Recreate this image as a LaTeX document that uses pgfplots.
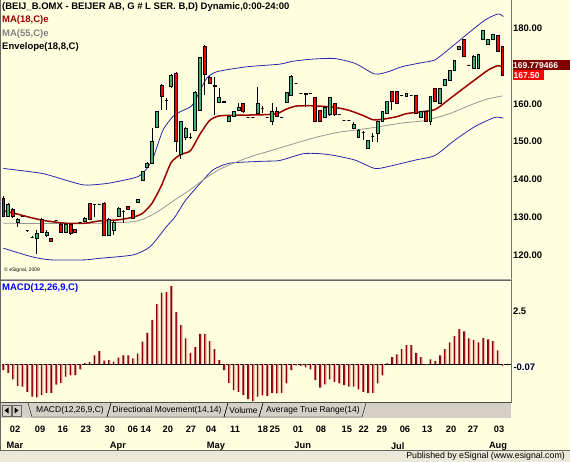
\documentclass[border=0pt]{standalone}
\usepackage{pgfplots}
\pgfplotsset{compat=1.18}
\usepackage{pgfplotstable}
\usepackage{fontspec}
\setmainfont{Liberation Sans}
\definecolor{bgy}{RGB}{255,255,224}
\definecolor{upg}{RGB}{60,179,113}
\definecolor{dnr}{RGB}{255,0,0}
\definecolor{ma18}{RGB}{153,0,0}
\definecolor{ma55}{RGB}{150,150,150}
\definecolor{env}{RGB}{40,40,170}
\definecolor{macdr}{RGB}{139,0,0}
\definecolor{macdp}{RGB}{228,178,178}
\definecolor{wgray}{RGB}{212,208,200}
\definecolor{sgray}{RGB}{236,233,216}
\definecolor{boxr}{RGB}{128,0,0}

\pgfplotstableread{
i o h l c
0 135.1 135.5 130.0 130.3
1 130.3 133.8 130.0 133.5
2 132.2 132.5 129.8 130.3
3 128.5 129.8 127.4 129.5
4 130.1 130.3 130.0 130.1
5 126.4 126.6 126.2 126.4
6 124.7 124.9 124.5 124.7
7 124.5 126.6 120.3 125.6
8 129.5 129.8 125.8 126.1
9 125.3 126.6 124.7 126.1
10 124.5 124.6 123.6 123.7
11 129.2 129.3 129.1 129.2
12 128.2 128.4 126.0 126.1
13 126.1 128.4 125.8 128.2
14 128.2 128.3 125.2 125.8
15 126.9 127.0 126.0 126.1
16 128.5 128.6 128.4 128.5
17 129.0 130.0 128.9 129.8
18 133.7 133.8 129.4 129.5
19 133.4 133.6 130.1 133.4
20 133.5 133.6 133.4 133.5
21 133.7 133.9 125.2 125.3
22 125.3 129.8 125.0 129.5
23 126.6 129.0 125.3 128.5
24 130.1 132.6 130.0 132.4
25 131.6 131.9 128.5 131.6
26 132.9 133.0 132.0 132.2
27 131.9 132.0 129.7 129.8
28 134.0 134.9 133.9 134.8
29 139.7 142.2 139.5 142.0
30 143.3 144.6 143.0 144.3
31 144.3 153.7 144.0 150.0
32 153.9 158.1 153.7 157.9
33 165.0 165.2 158.4 161.9
34 160.8 161.6 158.4 160.8
35 164.5 167.8 164.3 167.6
36 168.2 168.4 147.3 150.0
37 146.5 155.5 145.5 155.3
38 151.2 154.0 150.3 153.6
39 151.0 152.2 150.6 151.0
40 153.1 163.3 152.9 163.1
41 158.4 172.5 158.2 172.3
42 175.3 175.5 162.3 167.9
43 167.1 167.5 165.3 165.5
44 165.0 167.1 157.0 164.5
45 160.5 164.2 160.3 161.8
46 160.7 160.8 160.4 160.5
47 155.3 156.8 155.1 156.6
48 156.6 158.1 156.4 157.9
49 158.2 160.2 158.0 159.2
50 160.1 160.2 157.7 157.9
51 156.4 156.5 156.3 156.4
52 156.4 156.5 156.3 156.4
53 157.5 164.5 157.3 160.1
54 158.9 159.3 157.5 158.9
55 156.4 156.5 156.3 156.4
56 155.3 160.2 154.4 157.9
57 157.9 159.1 156.5 156.6
58 156.4 156.5 156.3 156.4
59 160.3 163.2 160.2 163.1
60 162.3 167.6 162.1 167.4
61 165.3 165.4 165.2 165.3
62 162.8 162.9 162.7 162.8
63 162.9 163.0 159.2 162.4
64 162.8 162.9 162.7 162.8
65 161.7 161.8 155.2 155.3
66 158.4 158.5 155.2 155.3
67 156.4 159.4 156.3 159.2
68 157.1 161.9 156.9 161.7
69 160.2 160.3 156.9 157.1
70 157.2 157.3 157.1 157.2
71 155.5 155.6 155.4 155.5
72 155.5 155.6 155.4 155.5
73 153.4 155.2 153.3 154.7
74 151.0 153.3 150.9 153.1
75 152.5 152.9 150.4 152.5
76 148.2 150.5 148.0 150.4
77 151.5 152.2 150.0 151.5
78 152.3 155.5 150.0 155.3
79 155.3 158.1 155.1 157.9
80 157.5 160.8 157.3 160.6
81 163.2 163.3 158.4 160.6
82 163.2 163.3 160.0 160.1
83 162.3 162.4 162.2 162.3
84 162.1 162.9 162.0 162.8
85 162.3 162.4 162.2 162.3
86 162.3 162.4 157.3 157.5
87 156.4 158.0 156.3 157.9
88 157.9 158.0 155.2 155.3
89 155.3 162.0 154.4 161.9
90 164.1 164.2 160.5 160.6
91 160.0 164.2 159.9 164.1
92 164.8 166.6 164.7 166.5
93 166.3 169.0 166.2 168.9
94 168.8 171.7 168.7 171.6
95 174.4 175.4 174.3 175.3
96 177.1 177.2 172.4 172.5
97 170.3 170.4 170.2 170.3
98 169.5 172.8 169.4 172.7
99 169.4 173.3 169.3 173.2
100 177.1 179.5 177.0 179.4
101 175.8 177.2 175.7 177.1
102 177.1 178.4 177.0 178.3
103 178.2 178.3 173.8 173.9
104 175.3 175.4 167.4 167.5
}\ohlc

\pgfplotstableread{
i v
0 131.7
3 130.8
6 129.8
9 129.0
13 128.4
17 128.4
20 129.0
24 129.3
27 130.0
29 131.0
31 133.7
33 138.5
35 144.5
37 146.6
39 147.6
41 152.0
43 155.6
45 156.8
49 157.0
54 157.1
57 157.4
59 158.6
61 159.4
64 159.5
67 159.3
69 159.1
72 158.3
75 156.9
77 155.8
79 155.9
82 156.6
84 157.4
87 157.9
90 158.5
93 161.3
96 164.2
98 166.1
101 168.9
103 170.1
104 169.8
}\maA

\pgfplotstableread{
i v
0 128.4
10 128.3
20 128.4
27 128.8
29 129.4
32 131.3
36 134.8
39 137.3
42 140.2
45 142.6
48 144.3
52 146.2
56 147.7
62 150.0
66 151.4
70 152.5
76 153.5
83 154.9
88 155.6
93 157.4
98 160.0
101 161.3
104 162.1
}\maB

\pgfplotstableread{
i v
0 142.9
8 141.6
13 139.8
17 138.5
22 139.0
28 140.7
30 143.0
31.3 146.0
33.3 153.1
35.4 156.7
37 158.0
39.3 159.5
41 163.5
42.4 166.8
44.5 168.5
50.7 169.8
57.6 170.5
60 171.2
64 171.8
69 172.0
73.3 170.7
77.4 167.9
80.2 168.5
83 169.8
87.2 170.9
89.9 171.6
92.7 174.3
96.9 178.7
100.4 182.2
103.1 183.8
104.2 183.1
}\envU

\pgfplotstableread{
i v
0 121.8
6 119.5
10 118.7
17 118.7
20 119.1
27 120.0
30.6 122.2
34 127.5
35.8 130.1
38 134.5
41.7 139.9
43.8 142.6
47.2 144.3
54.2 144.8
57.6 145.0
62.5 146.8
66 146.8
69.1 146.3
73.3 145.1
77.4 142.9
80.2 143.4
85.8 145.1
89.9 146.3
94.1 150.4
98.3 154.0
102.4 156.4
104.2 156.2
}\envL

\pgfplotstableread{
i v
0 -0.28
1 -0.41
2 -0.72
3 -1.02
4 -1.06
5 -1.30
6 -1.53
7 -1.56
8 -1.46
9 -1.35
10 -1.35
11 -0.97
12 -0.88
13 -0.59
14 -0.53
15 -0.52
16 -0.25
17 0.05
18 0.09
19 0.41
20 0.61
21 0.16
22 0.19
23 0.11
24 0.30
25 0.41
26 0.41
27 0.27
28 0.49
29 1.05
30 1.47
31 2.07
32 2.82
33 3.35
34 3.38
35 3.66
36 2.44
37 1.83
38 1.21
39 0.53
40 0.80
41 1.42
42 1.42
43 1.08
44 0.70
45 0.19
46 -0.28
47 -0.88
48 -1.22
49 -1.31
50 -1.46
51 -1.64
52 -1.74
53 -1.53
54 -1.47
55 -1.49
56 -1.35
57 -1.38
58 -1.35
59 -0.91
60 -0.28
61 -0.06
62 -0.09
63 -0.16
64 -0.25
65 -0.75
66 -1.10
67 -0.95
68 -0.72
69 -0.83
70 -0.91
71 -0.99
72 -1.06
73 -1.06
74 -1.19
75 -1.30
76 -1.35
77 -1.35
78 -0.91
79 -0.53
80 0.03
81 0.33
82 0.45
83 0.70
84 0.89
85 0.89
86 0.53
87 0.33
88 -0.02
89 0.22
90 0.14
91 0.41
92 0.70
93 1.02
94 1.31
95 1.64
96 1.53
97 1.21
98 1.13
99 1.02
100 1.22
101 1.16
102 1.08
103 0.64
104 -0.07
}\macd

\begin{document}
\begin{tikzpicture}[x=1pt,y=1pt]
\path[use as bounding box] (0,0) rectangle (570,462);
\fill[bgy] (0,0) rectangle (570,462);
% status bar
\fill[sgray] (0,0) rectangle (570,11);
\draw[black!60, line width=0.8pt] (0,11.4) -- (570,11.4);
\node[anchor=east, inner sep=0, font=\fontsize{8.8}{10}\selectfont] at (565,5.6) {Published by eSignal (www.esignal.com)};
% tab bar
\fill[wgray] (1,44) rectangle (511,59);

% ---------------- price panel ----------------
\begin{axis}[
  at={(2pt,184pt)}, anchor=south west, scale only axis,
  width=509pt, height=276pt,
  xmin=-0.27, xmax=105.8, ymin=113.9, ymax=186.96,
  axis line style={draw=none}, major tick length=0pt,
  xtick=\empty,
  ytick={120,130,140,150,160,180},
  ytick pos=right, yticklabel pos=right,
  y tick label style={/pgf/number format/.cd, fixed, fixed zerofill, precision=2, assume math mode=true, /tikz/.cd,
    font=\fontsize{9.5}{10}\selectfont\bfseries, anchor=west, xshift=-1.5pt},
  clip=true,
]
\addplot[env, line width=0.8pt, smooth, tension=0.4] table[x=i,y=v] {\envU};
\addplot[env, line width=0.8pt, smooth, tension=0.4] table[x=i,y=v] {\envL};
\addplot[ma55, line width=0.8pt, smooth, tension=0.4] table[x=i,y=v] {\maB};
\addplot[ma18, line width=1.5pt, smooth, tension=0.4] table[x=i,y=v] {\maA};
\pgfplotsforeachungrouped \r in {0,...,104}{%
  \pgfplotstablegetelem{\r}{i}\of\ohlc\let\cX\pgfplotsretval
  \pgfplotstablegetelem{\r}{o}\of\ohlc\let\cO\pgfplotsretval
  \pgfplotstablegetelem{\r}{h}\of\ohlc\let\cH\pgfplotsretval
  \pgfplotstablegetelem{\r}{l}\of\ohlc\let\cL\pgfplotsretval
  \pgfplotstablegetelem{\r}{c}\of\ohlc\let\cC\pgfplotsretval
  \ifdim\cC pt>\cO pt \def\ccol{upg}\else\ifdim\cC pt<\cO pt \def\ccol{dnr}\else\def\ccol{black}\fi\fi
  \pgfmathsetmacro\cXL{\cX-0.30}%
  \pgfmathsetmacro\cXR{\cX+0.30}%
  \edef\doit{%
    \noexpand\addplot[black, line width=1pt, forget plot] coordinates {(\cX,\cL) (\cX,\cH)};%
    \noexpand\addplot[draw=black, line width=0.7pt, fill=\ccol, forget plot] coordinates {(\cXL,\cO) (\cXR,\cO) (\cXR,\cC) (\cXL,\cC)} -- cycle;%
  }\doit
}
\end{axis}

% ---------------- MACD panel ----------------
\begin{axis}[
  at={(2pt,60pt)}, anchor=south west, scale only axis,
  width=509pt, height=121pt,
  xmin=-0.27, xmax=105.8, ymin=-1.78, ymax=3.90,
  axis line style={draw=none}, major tick length=0pt,
  ytick={2.5}, yticklabels={2.5},
  ytick pos=right, yticklabel pos=right,
  y tick label style={font=\fontsize{9.5}{10}\selectfont\bfseries, anchor=west, xshift=-1.5pt},
  xtick={2.44,7.65,12.4,17.2,22.2,27.0,29.7,34.3,39.1,43.3,48.3,54.1,56.6,61.4,66.2,71.6,75.1,78.9,83.7,88.3,93.3,97.9,103.3},
  xticklabels={02,09,16,23,30,06,14,20,27,04,11,18,25,01,08,15,22,29,06,13,20,27,03},
  x tick label style={font=\fontsize{9.3}{10}\selectfont\bfseries, anchor=north, yshift=-20.5pt},
  extra x ticks={2.44,23.9,44.3,62.4,82.2,103.1},
  extra x tick labels={Mar,Apr,May,Jun,Jul,Aug},
  extra x tick style={x tick label style={yshift=-16.5pt}},
  extra y ticks={0}, extra y tick labels={},
  extra y tick style={grid=major, major grid style={black, line width=0.9pt}},
  clip=true,
]
\addplot[ybar, bar width=1.6pt, bar shift=0pt, fill=macdr, draw=none] table[x=i,y=v] {\macd};
\addplot[ybar, bar width=1.0pt, bar shift=1.3pt, fill=macdp, draw=none] table[x=i,y=v] {\macd};
\end{axis}

% frame lines
\draw[black!55, line width=1pt] (511.5,60) -- (511.5,462);
\draw[black!35, line width=1pt] (0,182.8) -- (511.5,182.8);
\draw[black!60, line width=0.8pt] (0,181.6) -- (511.5,181.6);
\draw[black!60, line width=0.8pt] (0,59.6) -- (511.5,59.6);
\draw[black!60, line width=0.8pt] (0.5,11.4) -- (0.5,462);

% legend texts
\node[anchor=west, inner sep=0, font=\fontsize{9.5}{10}\selectfont\bfseries] at (2,455.3) {(BEIJ\_B.OMX - BEIJER AB, G \# L SER. B,D) Dynamic,0:00-24:00};
\node[anchor=west, inner sep=0, text=ma18, font=\fontsize{9.5}{10}\selectfont\bfseries] at (2,441.5) {MA(18,C)e};
\node[anchor=west, inner sep=0, text=black!50, font=\fontsize{9.5}{10}\selectfont\bfseries] at (2,428) {MA(55,C)e};
\node[anchor=west, inner sep=0, font=\fontsize{9.5}{10}\selectfont\bfseries] at (2,415) {Envelope(18,8,C)};
\node[anchor=west, inner sep=0, font=\fontsize{5}{6}\selectfont] at (4,192) {\textcopyright\ eSignal, 2009};
\node[anchor=west, inner sep=0, text=blue, font=\fontsize{9.5}{10}\selectfont\bfseries] at (2,174) {MACD(12,26,9,C)};

% right price boxes
\fill[boxr] (512.5,391.5) rectangle (570,401.8);
\node[anchor=west, inner sep=0, text=white, font=\fontsize{8.5}{9}\selectfont\bfseries] at (513,396.8) {169.779466};
\fill[dnr] (512.5,381.5) rectangle (543.5,391.5);
\node[anchor=west, inner sep=0, text=white, font=\fontsize{8.5}{9}\selectfont\bfseries] at (513.5,386.3) {167.50};
\node[anchor=west, inner sep=0.8pt, fill=white, font=\fontsize{9.5}{10}\selectfont\bfseries] at (512.5,95) {-0.07};

% tab bar content
\draw[black!60, fill=wgray] (2,46) rectangle (11,57);
\fill[black] (4.5,51.5) -- (8.5,54.5) -- (8.5,48.5) -- cycle;
\draw[black!60, fill=wgray] (12,46) rectangle (21,57);
\fill[black] (18.5,51.5) -- (14.5,54.5) -- (14.5,48.5) -- cycle;
\draw[black] (28,59) -- (32,45) -- (107,45) -- (111,59);
\draw[black] (111,59) -- (107,45);
\draw[black] (107,45) -- (224,45) -- (228,59);
\draw[black] (228,59) -- (224,45) -- (259,45) -- (263,59);
\draw[black] (263,59) -- (259,45) -- (362,45) -- (366,59);
\node[inner sep=0, font=\fontsize{8.5}{10}\selectfont] at (70,51.8) {MACD(12,26,9,C)};
\node[inner sep=0, font=\fontsize{8.5}{10}\selectfont] at (167,51.8) {Directional Movement(14,14)};
\node[inner sep=0, font=\fontsize{8.5}{10}\selectfont] at (243.5,51.8) {Volume};
\node[inner sep=0, font=\fontsize{8.5}{10}\selectfont] at (313,51.8) {Average True Range(14)};
\draw[black!70, line width=1pt] (1,59.2) -- (511,59.2);
\end{tikzpicture}
\end{document}
